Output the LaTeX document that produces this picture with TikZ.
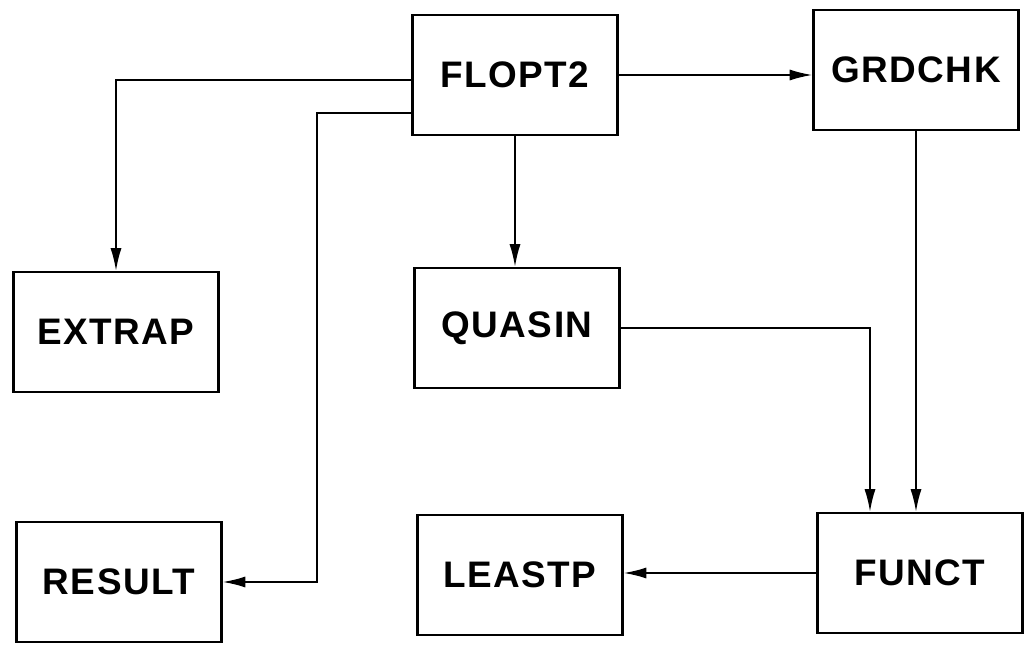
\documentclass[tikz,border=0pt]{standalone}
\usepackage{fontspec}
\setmainfont[LetterSpace=4]{Liberation Sans}
\usepackage{tikz}
\usetikzlibrary{arrows.meta}

\begin{document}
\begin{tikzpicture}[
  x=0.2mm, y=-0.2mm,
  font=\fontsize{21}{25}\selectfont\bfseries,
  routine/.style={draw, line width=1.5pt, minimum width=41mm, minimum height=24mm,
                  inner sep=0pt, align=center},
  arr/.style={-{Latex[length=4.5mm, width=2.2mm]}, line width=0.9pt}
]
\useasboundingbox (0,0) rectangle (1024,645);
% ----- routines -----
\node[routine] (flopt)  at (515,75)  {FLOPT2};
\node[routine] (grdchk) at (916,70)  {GRDCHK};
\node[routine] (extrap) at (116,332) {EXTRAP};
\node[routine] (quasin) at (517,328) {QUASIN};
\node[routine] (result) at (119,582) {RESULT};
\node[routine] (leastp) at (520,575) {LEASTP};
\node[routine] (funct)  at (920,573) {FUNCT};
% ----- calls out of FLOPT2 -----
\draw[arr] ([yshift=-1mm]flopt.west) -| (extrap.north);
\draw[arr] ([yshift=-7.6mm]flopt.west) -| ([xshift=18.8mm]result.east) -- (result.east);
\draw[arr] (flopt.south) -- (flopt.south |- quasin.north);
\draw[arr] (flopt.east) -- (flopt.east -| grdchk.west);
% ----- calls into FUNCT -----
\draw[arr] (grdchk.south) -- (grdchk.south |- funct.north);
\draw[arr] (quasin.east) -| ([xshift=-10mm]funct.north);
\draw[arr] (funct.west) -- (funct.west -| leastp.east);
\end{tikzpicture}
\end{document}
